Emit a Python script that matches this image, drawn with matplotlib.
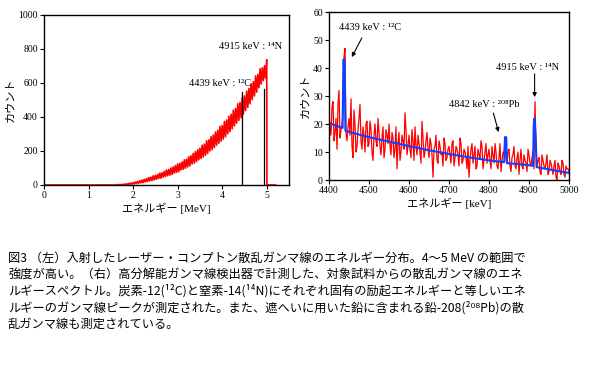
import numpy as np
from matplotlib import pyplot as plt

# left: incident LCS gamma-ray energy spectrum (MeV, counts)
left_energy = np.arange(1.625, 5.0001, 0.025)
left_counts = [
    0, 2, 0, 3, 0, 4, 1, 5,
    2, 7, 3, 9, 4, 12, 5, 14,
    6, 18, 8, 21, 10, 25, 12, 29,
    14, 33, 18, 38, 20, 44, 24, 46,
    26, 54, 30, 57, 34, 62, 38, 70,
    40, 72, 46, 80, 50, 88, 54, 92,
    58, 100, 62, 106, 70, 114, 74, 124,
    78, 128, 88, 136, 92, 148, 98, 152,
    106, 166, 112, 172, 124, 186, 128, 196,
    138, 208, 148, 216, 156, 234, 164, 240,
    176, 260, 186, 266, 200, 284, 208, 294,
    220, 312, 234, 322, 246, 344, 258, 350,
    270, 374, 284, 382, 302, 404, 314, 416,
    330, 440, 348, 450, 364, 478, 380, 486,
    396, 514, 416, 524, 438, 552, 456, 568,
    478, 596, 502, 608, 524, 642, 546, 650,
    572, 684, 594, 690, 614, 702, 630, 735,
]
zero_energy = [0.0, 1.625]
tail_energy = [5.0, 5.005, 5.2]
tail_counts = [735, 0, 0]

left_lines = [4.45, 4.945]
left_line_tops = [549, 563]
left_labels = ["4439 keV : ¹²C", "4915 keV : ¹⁴N"]
left_label_pos = [(3.25, 600), (3.92, 812)]

# right: scattered gamma-ray spectrum (keV, counts)
# channels on the 5 keV grid and the in-between 2.5 keV channels
right_counts_a = [
    24, 16, 28, 17, 11, 32, 18, 24, 47, 14,
    22, 29, 8, 20, 12, 22, 14, 19, 10, 21,
    13, 18, 7, 20, 12, 17, 9, 19, 11, 16,
    20, 9, 15, 11, 4, 17, 10, 14, 24, 9,
    16, 8, 14, 19, 9, 13, 6, 15, 10, 17,
    8, 13, 1, 12, 7, 14, 9, 5, 13, 8,
    12, 6, 14, 8, 11, 5, 13, 7, 10, 4,
    1, 11, 6, 12, 5, 9, 14, 4, 10, 6,
    11, 4, 9, 13, 5, 8, 3, 10, 15, 6,
    11, 3, 9, 5, 8, 2, 11, 4, 7, 3,
    9, 5, 10, 28, 5, 8, 2, 7, 4, 9,
    3, 6, 2, 7, 0, 5, 2, 6, 1, 4,
    3,
]
right_counts_b = [
    19, 26, 14, 22, 27, 15, 20, 44, 17, 19,
    16, 12, 25, 10, 18, 27, 11, 16, 20, 12,
    21, 10, 16, 14, 22, 12, 15, 8, 18, 13,
    12, 17, 8, 19, 13, 7, 16, 11, 18, 12,
    11, 18, 7, 12, 16, 10, 21, 8, 14, 11,
    15, 9, 11, 16, 6, 12, 10, 15, 7, 11,
    9, 13, 5, 12, 9, 15, 6, 11, 8, 12,
    7, 13, 9, 4, 11, 8, 12, 7, 13, 9,
    7, 12, 6, 10, 4, 13, 7, 9, 8, 10,
    5, 8, 12, 4, 10, 7, 5, 9, 6, 11,
    6, 8, 4, 12, 7, 3, 9, 5, 6, 2,
    7, 4, 5, 1, 6, 3, 7, 2, 5, 4,
]
right_energy = np.arange(4400, 5000.1, 2.5)
right_counts = []
for a, b in zip(right_counts_a, right_counts_b):
    right_counts += [a, b]
right_counts.append(right_counts_a[-1])

fit_energy = [4400, 4420, 4434, 4436, 4439, 4441, 4460, 4500, 4550, 4600,
              4650, 4700, 4750, 4800, 4838, 4840, 4843, 4845, 4880, 4910,
              4912, 4914, 4917, 4919, 4950, 5000]
fit_counts = [20.3, 19.3, 18.6, 43, 43, 17.6, 16.8, 15.3, 13.7, 12.1,
              10.6, 9.3, 8.1, 7.0, 6.4, 15.3, 15.3, 6.0, 5.6, 5.1,
              20, 22, 14, 4.6, 3.8, 2.5]

right_labels = ["4439 keV : ¹²C", "4915 keV : ¹⁴N", "4842 keV : ²⁰⁸Pb"]
right_label_pos = [(4424, 54.3), (4817, 40), (4699, 26.8)]
arrow_from = [(4482, 50.7), (4914, 37.9), (4811, 23.9)]
arrow_to = [(4457, 43.9), (4914, 29.6), (4824, 17.1)]

caption = [
    "図3 （左）入射したレーザー・コンプトン散乱ガンマ線のエネルギー分布。4～5 MeV の範囲で",
    "強度が高い。（右）高分解能ガンマ線検出器で計測した、対象試料からの散乱ガンマ線のエネ",
    "ルギースペクトル。炭素-12(¹²C)と窒素-14(¹⁴N)にそれぞれ固有の励起エネルギーと等しいエネ",
    "ルギーのガンマ線ピークが測定された。また、遮へいに用いた鉛に含まれる鉛-208(²⁰⁸Pb)の散",
    "乱ガンマ線も測定されている。",
]

serif = ["Liberation Serif", "Noto Sans CJK JP", "DejaVu Serif"]
gothic = ["Noto Sans CJK JP", "DejaVu Sans"]
plt.rcParams["font.family"] = serif

W, H = 596, 371
fig = plt.figure(figsize=(W / 100, H / 100), dpi=100)


def style(ax):
    for s in ax.spines.values():
        s.set_linewidth(1.0)
    ax.tick_params(direction="out", length=3, width=0.8, labelsize=7, pad=1.5)


# ---- left panel
ax1 = fig.add_axes([44 / W, 1 - 185 / H, 245 / W, 170 / H])
ax1.plot(zero_energy, [0, 0], color="red", lw=1.2)
ax1.plot(left_energy, left_counts, color="red", lw=1.2)
ax1.plot(tail_energy, tail_counts, color="red", lw=1.2)
for x, top in zip(left_lines, left_line_tops):
    ax1.plot([x, x], [0, top], color="black", lw=0.9)
for txt, (x, y) in zip(left_labels, left_label_pos):
    ax1.text(x, y, txt, fontsize=7.5, va="center", ha="left")
ax1.set_xlim(0, 5.5)
ax1.set_ylim(0, 1000)
ax1.set_xticks([0, 1, 2, 3, 4, 5])
ax1.set_yticks([0, 200, 400, 600, 800, 1000])
ax1.set_xlabel("エネルギー [MeV]", fontsize=8, labelpad=2)
ax1.set_ylabel("カウント", family=gothic, fontsize=8, labelpad=2)
style(ax1)

# ---- right panel
ax2 = fig.add_axes([329 / W, 1 - 180 / H, 240 / W, 168 / H])
ax2.plot(right_energy, right_counts, color="red", lw=0.9)
ax2.plot(fit_energy, fit_counts, color="#1040ff", lw=1.5)
for txt, (x, y) in zip(right_labels, right_label_pos):
    ax2.text(x, y, txt, fontsize=7.5, va="center", ha="left")
for p0, p1 in zip(arrow_from, arrow_to):
    ax2.annotate("", xy=p1, xytext=p0,
                 arrowprops=dict(arrowstyle="-|>", color="black", lw=0.8,
                                 mutation_scale=6, shrinkA=0, shrinkB=0))
ax2.set_xlim(4400, 5000)
ax2.set_ylim(0, 60)
ax2.set_xticks(np.arange(4400, 5001, 100))
ax2.set_yticks(np.arange(0, 61, 10))
ax2.set_xlabel("エネルギー [keV]", fontsize=8, labelpad=2)
ax2.set_ylabel("カウント", family=gothic, fontsize=8, labelpad=2)
style(ax2)

# ---- caption
for i, line in enumerate(caption):
    fig.text(8 / W, 1 - (258 + i * 16.6) / H, line, family=gothic,
             fontsize=8.8, va="center", ha="left")

fig.savefig("out.png", dpi=100)
